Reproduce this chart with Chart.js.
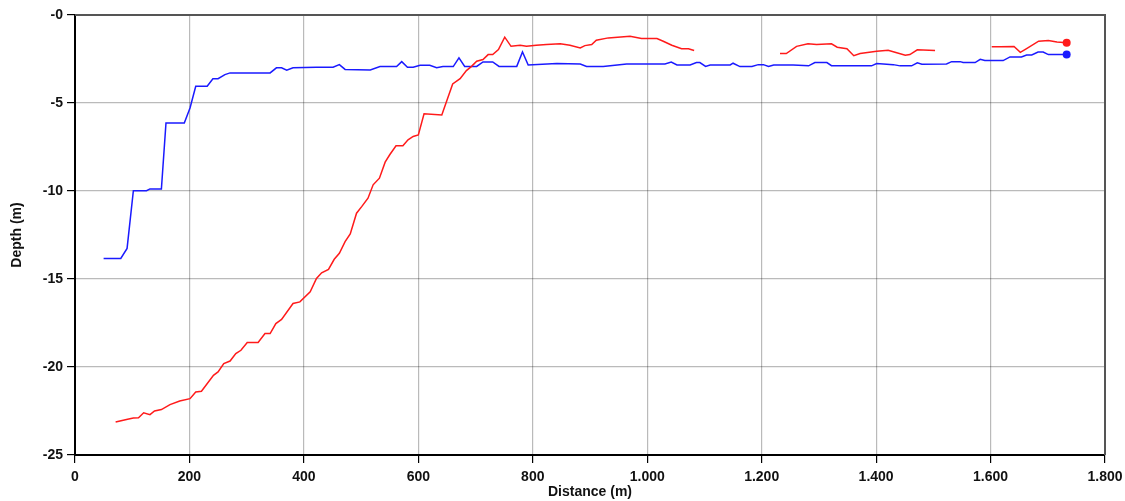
<!DOCTYPE html>
<html>
<head>
<meta charset="utf-8">
<script src="https://cdn.jsdelivr.net/npm/chart.js@4"></script>
<style>
  body { margin: 0; background: #fff; }
  #wrap { width: 1125px; height: 501px; }
</style>
</head>
<body>
<div id="wrap"><canvas id="profileChart" width="1125" height="501"></canvas></div>
<script>
// Blue profile
const blueDist = [50, 80, 91, 102, 125, 131, 151, 159, 191, 201, 211, 231, 241, 250, 262, 271, 341, 352, 361, 370,
  381, 422, 451, 462, 472, 516, 533, 562, 571, 581, 591, 603, 620, 632, 643, 661, 671, 681, 702, 713,
  730, 741, 772, 782, 792, 842, 883, 894, 923, 964, 993, 1031, 1042, 1052, 1075, 1086, 1092, 1102, 1110, 1145,
  1150, 1162, 1183, 1194, 1203, 1212, 1221, 1255, 1282, 1293, 1314, 1322, 1372, 1392, 1401, 1430, 1442, 1462, 1472, 1480,
  1523, 1532, 1547, 1552, 1573, 1582, 1590, 1622, 1634, 1654, 1663, 1672, 1683, 1692, 1701, 1733];
const blueDepth = [-13.83, -13.83, -13.26, -9.98, -9.98, -9.88, -9.88, -6.14, -6.14, -5.28, -4.05, -4.05, -3.62, -3.62, -3.39, -3.29, -3.29, -3.0, -3.0, -3.14,
  -3.0, -2.97, -2.97, -2.82, -3.09, -3.12, -2.93, -2.93, -2.65, -2.97, -2.97, -2.86, -2.86, -2.99, -2.93, -2.93, -2.44, -2.92, -2.92, -2.67,
  -2.67, -2.92, -2.92, -2.10, -2.84, -2.76, -2.78, -2.92, -2.92, -2.78, -2.78, -2.78, -2.67, -2.84, -2.84, -2.70, -2.70, -2.92, -2.84, -2.84,
  -2.74, -2.93, -2.93, -2.82, -2.82, -2.93, -2.84, -2.84, -2.89, -2.70, -2.70, -2.88, -2.88, -2.89, -2.76, -2.82, -2.89, -2.89, -2.72, -2.80,
  -2.78, -2.65, -2.65, -2.70, -2.70, -2.52, -2.59, -2.59, -2.38, -2.38, -2.27, -2.27, -2.10, -2.10, -2.25, -2.25];

// Red profile (null = no data)
const redDist = [71, 90, 102, 111, 120, 131, 139, 151, 166, 183, 201, 211, 221, 242, 250, 260, 271, 281, 290, 301,
  320, 332, 341, 351, 361, 381, 393, 411, 422, 431, 443, 453, 462, 472, 481, 492, 501, 512, 521, 532,
  542, 550, 561, 573, 582, 591, 600, 610, 641, 660, 673, 684, 693, 702, 713, 722, 730, 740, 751, 762,
  778, 789, 806, 824, 848, 865, 883, 891, 903, 911, 932, 970, 990, 1017, 1028, 1043, 1060, 1072, 1082, 1150,
  1232, 1243, 1261, 1281, 1296, 1322, 1332, 1349, 1361, 1372, 1401, 1421, 1433, 1451, 1459, 1472, 1503, 1550,
  1602, 1617, 1641, 1652, 1663, 1684, 1701, 1716, 1733];
const redDepth = [-23.13, -22.98, -22.90, -22.88, -22.60, -22.71, -22.50, -22.42, -22.14, -21.93, -21.80, -21.42, -21.38, -20.47, -20.28, -19.81, -19.66, -19.24, -19.05, -18.61,
  -18.61, -18.10, -18.10, -17.53, -17.30, -16.39, -16.30, -15.73, -14.97, -14.65, -14.45, -13.88, -13.54, -12.88, -12.44, -11.26, -10.89, -10.41, -9.65, -9.27,
  -8.36, -7.94, -7.43, -7.43, -7.09, -6.90, -6.81, -5.61, -5.68, -3.92, -3.62, -3.16, -2.92, -2.63, -2.53, -2.25, -2.25, -1.96, -1.26, -1.78,
  -1.72, -1.78, -1.72, -1.68, -1.64, -1.72, -1.87, -1.74, -1.68, -1.43, -1.30, -1.21, -1.34, -1.34, -1.49, -1.72, -1.92, -1.92, -2.02, null,
  -2.19, -2.19, -1.78, -1.64, -1.68, -1.64, -1.83, -1.92, -2.31, -2.19, -2.06, -2.00, -2.12, -2.29, -2.25, -1.98, -2.02, null,
  -1.81, -1.81, -1.79, -2.12, -1.91, -1.49, -1.45, -1.53, -1.57];

const xTicks = [0, 200, 400, 600, 800, 1000, 1200, 1400, 1600, 1800];
const yTicks = [-25, -20, -15, -10, -5, 0];

function toPoints(xs, ys) {
  return xs.map((x, i) => ({ x: x, y: ys[i] }));
}

function lastDot(ctx) {
  return ctx.dataIndex === ctx.dataset.data.length - 1 ? 4 : 0;
}

function fmtDist(v) {
  if (v >= 1000) return Math.floor(v / 1000) + '.' + String(v % 1000).padStart(3, '0');
  return String(v);
}

// top and right frame lines
const framePlugin = {
  id: 'frame',
  beforeDatasetsDraw(chart) {
    const a = chart.chartArea;
    const c = chart.ctx;
    c.save();
    c.strokeStyle = '#555';
    c.lineWidth = 2;
    c.beginPath();
    c.moveTo(a.left, a.top);
    c.lineTo(a.right, a.top);
    c.lineTo(a.right, a.bottom);
    c.stroke();
    c.restore();
  }
};

const tickFont = { family: '"Liberation Sans", Arial, sans-serif', size: 14, weight: 'bold' };

new Chart(document.getElementById('profileChart'), {
  type: 'line',
  data: {
    datasets: [{
      data: toPoints(redDist, redDepth),
      borderColor: '#ff1a1a',
      backgroundColor: '#ff1a1a',
      borderWidth: 1.5,
      pointRadius: lastDot,
      pointBorderWidth: 0,
      tension: 0,
      spanGaps: false
    }, {
      data: toPoints(blueDist, blueDepth),
      borderColor: '#1a1aff',
      backgroundColor: '#1a1aff',
      borderWidth: 1.5,
      pointRadius: lastDot,
      pointBorderWidth: 0,
      tension: 0
    }]
  },
  options: {
    responsive: false,
    animation: false,
    layout: { padding: { top: 15, right: 20, left: 0, bottom: 0 } },
    plugins: {
      legend: { display: false },
      tooltip: { enabled: false }
    },
    scales: {
      x: {
        type: 'linear',
        min: 0,
        max: 1800,
        afterBuildTicks: s => { s.ticks = xTicks.map(v => ({ value: v })); },
        afterFit: s => { s.height = 46; s.paddingRight = 0; s.paddingLeft = 0; },
        grid: { color: 'rgba(0,0,0,0.27)', lineWidth: 1.2, tickLength: 8, tickColor: '#000' },
        border: { color: '#000', width: 2 },
        ticks: { color: '#111', font: tickFont, padding: 6, maxRotation: 0, callback: v => fmtDist(v) },
        title: { display: true, text: 'Distance (m)', color: '#111', font: tickFont, padding: { top: 0, bottom: 0 } }
      },
      y: {
        type: 'linear',
        min: -25,
        max: 0,
        afterBuildTicks: s => { s.ticks = yTicks.map(v => ({ value: v })); },
        afterFit: s => { s.width = 75; },
        grid: { color: 'rgba(0,0,0,0.27)', lineWidth: 1.2, tickLength: 8, tickColor: '#000' },
        border: { color: '#000', width: 2 },
        ticks: { color: '#111', font: tickFont, padding: 4, callback: v => (v === 0 ? '-0' : String(v)) },
        title: { display: true, text: 'Depth (m)', color: '#111', font: tickFont, padding: { top: 9, bottom: 0 } }
      }
    }
  },
  plugins: [framePlugin]
});
</script>
</body>
</html>
